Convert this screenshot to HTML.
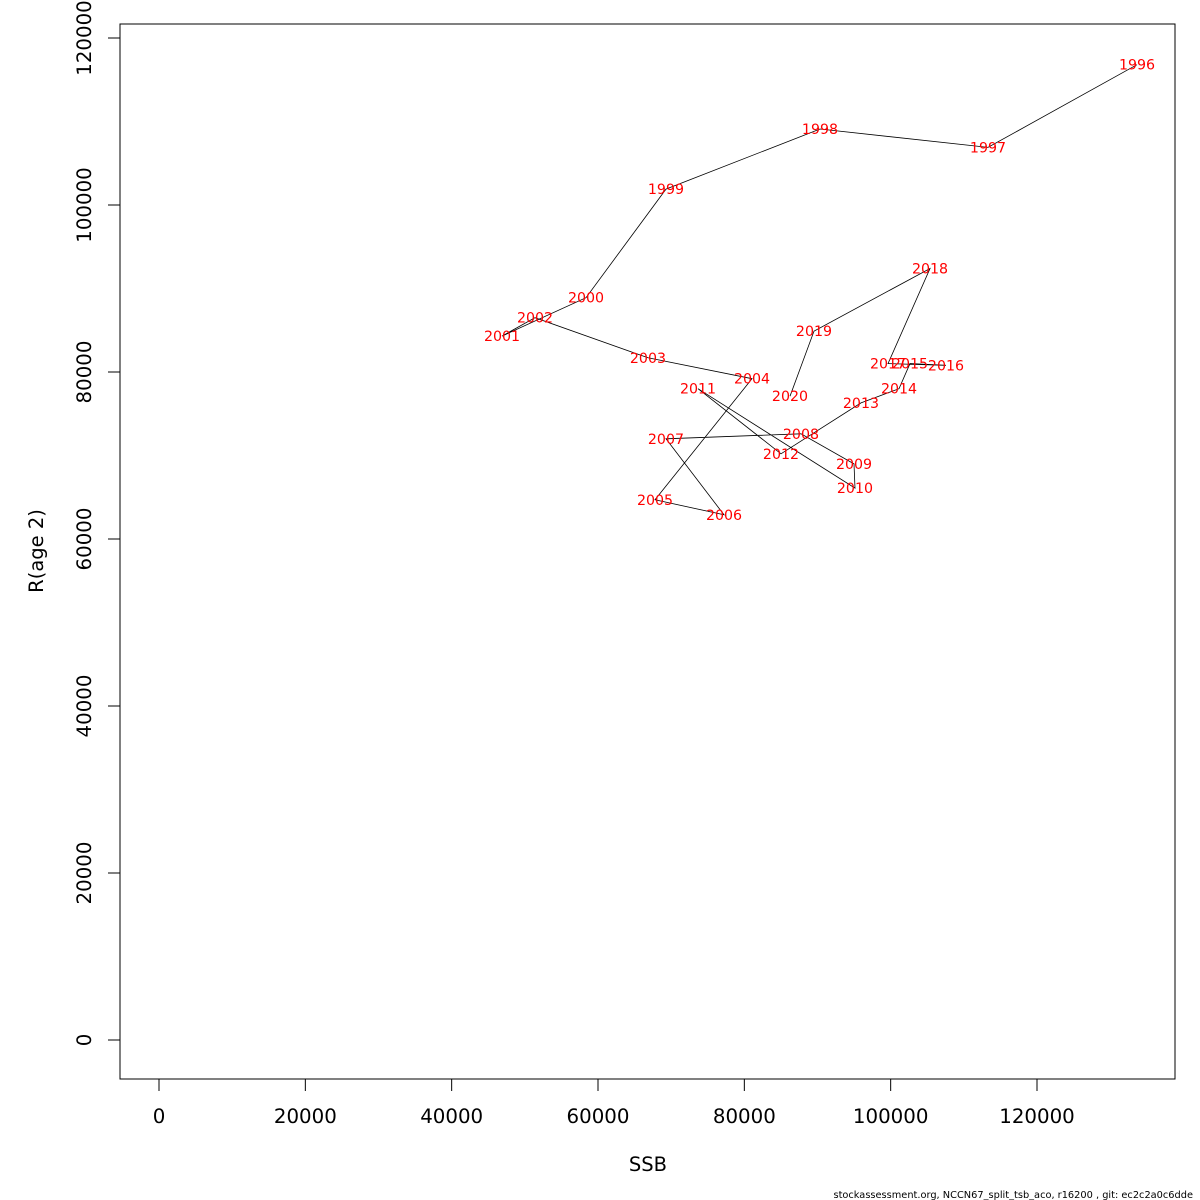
<!DOCTYPE html>
<html><head><meta charset="utf-8">
<style>
html,body{margin:0;padding:0;background:#fff;}
svg{display:block;font-family:"DejaVu Sans","Liberation Sans",sans-serif;}
</style></head>
<body>
<svg id="chart" width="1200" height="1200" viewBox="0 0 1200 1200" xmlns="http://www.w3.org/2000/svg">
<rect x="120" y="24" width="1055" height="1055" fill="none" stroke="#000" stroke-width="1"/>
<g id="xaxis"></g>
<g id="yaxis"></g>
<g id="series"></g>
<text x="648" y="1171" font-size="19.5" text-anchor="middle">SSB</text>
<text transform="translate(43,551) rotate(-90)" font-size="19.5" text-anchor="middle">R(age 2)</text>
<text x="1193" y="1198" font-size="9.8" text-anchor="end">stockassessment.org, NCCN67_split_tsb_aco, r16200 , git: ec2c2a0c6dde</text>
</svg>
<script>
const years = [1996,1997,1998,1999,2000,2001,2002,2003,2004,2005,2006,2007,2008,2009,2010,2011,2012,2013,2014,2015,2016,2017,2018,2019,2020];
const ssb = [133670,113300,90340,69290,58360,46880,51390,66830,81050,67790,77220,69290,87740,94990,95120,73670,85010,95940,101140,102640,107560,99640,105380,89520,86240];
const rec = [116800,106900,109100,101900,88900,84300,86500,81700,79200,64700,62900,72000,72600,69000,66100,78000,70200,76300,78000,81000,80800,81000,92400,84900,77100];
const xTicks = [0,20000,40000,60000,80000,100000,120000];
const yTicks = [0,20000,40000,60000,80000,100000,120000];
const NS = "http://www.w3.org/2000/svg";
function sx(v){return 159 + v*(878/120000);}
function sy(v){return 1040 - v*(1002/120000);}
function mk(tag,attrs,parent,txt){const e=document.createElementNS(NS,tag);for(const k in attrs)e.setAttribute(k,attrs[k]);if(txt!==undefined)e.textContent=txt;parent.appendChild(e);return e;}
const xa=document.getElementById('xaxis'), ya=document.getElementById('yaxis'), se=document.getElementById('series');
mk('line',{x1:sx(0),x2:sx(120000),y1:1079,y2:1079,stroke:'#000'},xa);
xTicks.forEach(t=>{
  const l=mk('line',{x1:sx(t),x2:sx(t),y1:1079,y2:1091,stroke:'#000'},xa);
  
  
  const tx=mk('text',{x:sx(t),y:1123,'font-size':19.8,'text-anchor':'middle'},xa,String(t));
  
  
});
mk('line',{x1:120,x2:120,y1:sy(0),y2:sy(120000),stroke:'#000'},ya);
yTicks.forEach(t=>{
  const l=mk('line',{x1:108,x2:120,y1:sy(t),y2:sy(t),stroke:'#000'},ya);
  
  
  const tx=mk('text',{transform:`translate(91,${sy(t)}) rotate(-90)`,'font-size':19.8,'text-anchor':'middle'},ya,String(t));
  
  
});
const pts=ssb.map((v,i)=>sx(v).toFixed(1)+','+sy(rec[i]).toFixed(1)).join(' ');
const pl=mk('polyline',{points:pts,fill:'none',stroke:'#000','stroke-width':0.8},se);


years.forEach((y,i)=>{
  const t=mk('text',{x:sx(ssb[i]),y:sy(rec[i])+5,'font-size':14.2,fill:'#ff0000','text-anchor':'middle'},se,String(y));
  
  
});
</script>
</body></html>
